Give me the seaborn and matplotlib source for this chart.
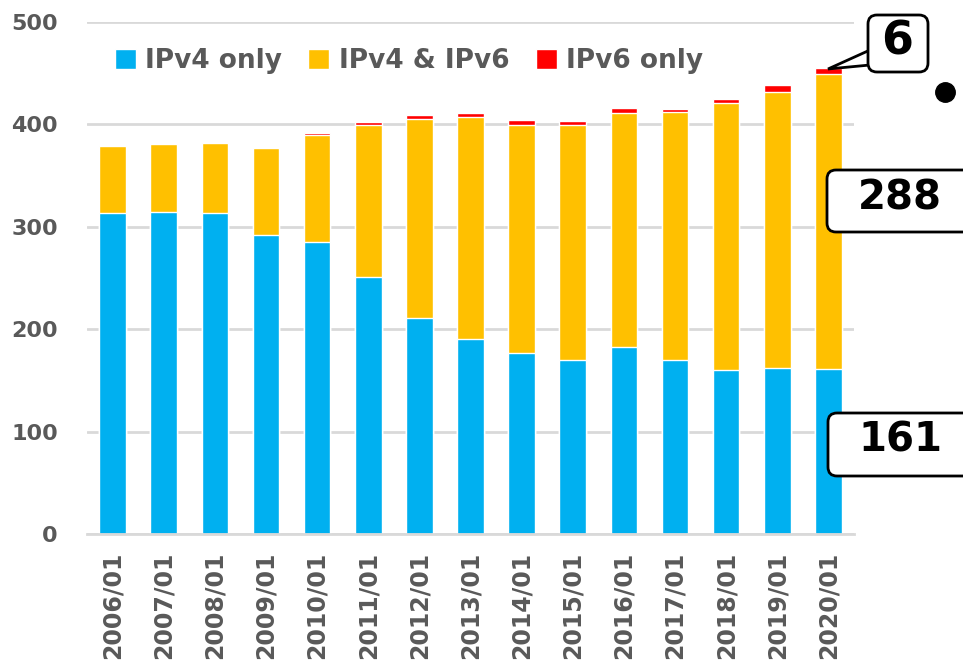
import numpy as np
import pandas as pd
import matplotlib
matplotlib.use("Agg")
import matplotlib.pyplot as plt
import seaborn as sns
from matplotlib.patches import FancyBboxPatch, Polygon
from matplotlib.transforms import IdentityTransform

# data
years = ["2006/01", "2007/01", "2008/01", "2009/01", "2010/01", "2011/01", "2012/01",
         "2013/01", "2014/01", "2015/01", "2016/01", "2017/01", "2018/01", "2019/01", "2020/01"]
ipv4_only = [313, 314, 313, 292, 285, 251, 211, 190, 177, 170, 183, 170, 160, 162, 161]
ipv4_ipv6 = [66, 67, 69, 85, 105, 148, 194, 217, 222, 229, 228, 242, 261, 270, 288]
ipv6_only = [0, 0, 0, 0, 2, 3, 4, 4, 5, 4, 5, 3, 4, 6, 6]

BLUE = "#00B0F0"
YELLOW = "#FFC000"
RED = "#FF0000"
GREY = "#595959"
GRID = "#D9D9D9"

df = pd.DataFrame({"year": years, "v4": ipv4_only, "both": ipv4_ipv6, "v6": ipv6_only})
df["lvl2"] = df["v4"] + df["both"]
df["total"] = df["lvl2"] + df["v6"]

sns.set_style("white")
plt.rcParams["font.family"] = ["DejaVu Sans"]

W, H = 963, 663
fig = plt.figure(figsize=(W / 100, H / 100), dpi=100)
ax = fig.add_axes([87 / W, 1 - 534 / H, (854 - 87) / W, (534 - 22) / H])

# stacked bars by overlaying cumulative totals
sns.barplot(data=df, x="year", y="total", color=RED, width=0.52, saturation=1, ax=ax, label="IPv6 only")
sns.barplot(data=df, x="year", y="lvl2", color=YELLOW, width=0.52, saturation=1, ax=ax, label="IPv4 & IPv6")
sns.barplot(data=df, x="year", y="v4", color=BLUE, width=0.52, saturation=1, ax=ax, label="IPv4 only")

ax.set_ylim(0, 500)
ax.set_xlim(-0.5, len(years) - 0.5)
ax.set_yticks(range(0, 501, 100))
ax.yaxis.grid(True, color=GRID, linewidth=2)
ax.set_axisbelow(True)
ax.set_xlabel("")
ax.set_ylabel("")

for s in ["left", "right", "top"]:
    ax.spines[s].set_visible(False)
ax.spines["bottom"].set_color(GRID)
ax.spines["bottom"].set_linewidth(2)

ax.tick_params(axis="y", length=0, pad=21, labelsize=16, labelcolor=GREY)
ax.tick_params(axis="x", which="major", length=0, pad=13, labelsize=17, labelcolor=GREY, rotation=90)
ax.set_xticks(np.arange(-0.5, len(years)), minor=True)
ax.tick_params(axis="x", which="minor", length=6, width=2, color=GRID)
for t in ax.get_yticklabels() + ax.get_xticklabels():
    t.set_fontweight("bold")

# legend order: IPv4 only, IPv4 & IPv6, IPv6 only
h, l = ax.get_legend_handles_labels()
order = [l.index("IPv4 only"), l.index("IPv4 & IPv6"), l.index("IPv6 only")]
leg = ax.legend([h[i] for i in order], [l[i] for i in order], ncol=3, frameon=False,
                loc="upper left", bbox_to_anchor=(0.005, 0.995),
                handlelength=0.8, handleheight=0.8, handletextpad=0.35, columnspacing=1.0,
                prop={"size": 19, "weight": "bold"})
for t in leg.get_texts():
    t.set_color(GREY)

# callouts in pixel coordinates (top-left origin)
def px(x, y):
    return x, H - y

def callout(x0, y0, x1, y1, text, tx, ty, size):
    X0, Y1 = px(x0, y1)
    box = FancyBboxPatch((X0, Y1), x1 - x0, y1 - y0,
                         boxstyle="round,pad=0,rounding_size=9",
                         transform=IdentityTransform(), fc="white", ec="black", lw=2,
                         clip_on=False, zorder=10)
    fig.add_artist(box)
    fig.text(tx / W, 1 - ty / H, text, ha="center", va="center", fontsize=size,
             fontweight="bold", color="black", zorder=11)

tri = Polygon([px(870, 50), px(828, 69), px(870, 65)], closed=True,
              transform=IdentityTransform(), fc="white", ec="black", lw=2, zorder=9)
fig.add_artist(tri)
callout(868, 15, 928, 72, "6", 897, 42, 33)
callout(827, 170, 990, 232, "288", 900, 198, 29)
callout(828, 413, 990, 476, "161", 900, 441, 29)

fig.add_artist(plt.Line2D([945 / W], [1 - 92 / H], marker="o", markersize=14,
                          color="black", transform=fig.transFigure))

fig.savefig("out.png", dpi=100)
